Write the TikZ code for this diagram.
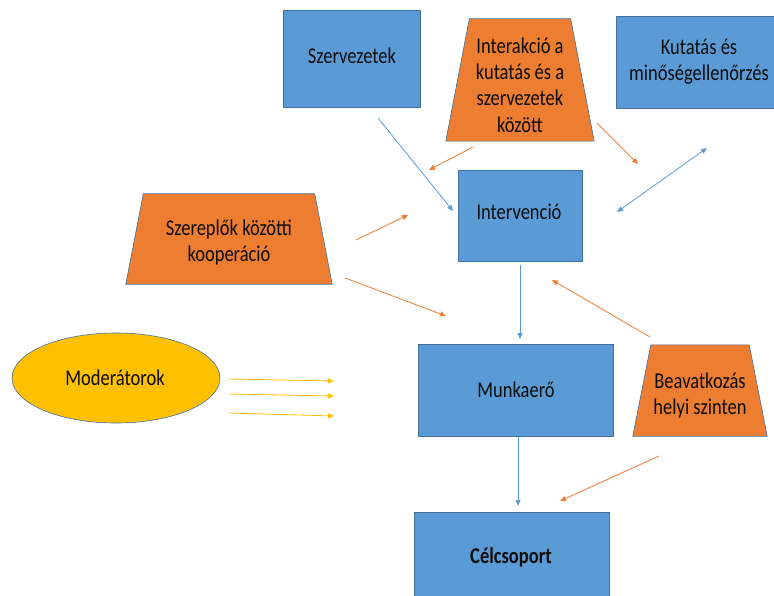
\documentclass[tikz,border=0pt]{standalone}
\usepackage{fontspec}
\setmainfont{Carlito}
\usetikzlibrary{shapes.geometric,arrows.meta}
\definecolor{boxblue}{HTML}{5B9BD5}
\definecolor{edgeblue}{HTML}{41719C}
\definecolor{orng}{HTML}{ED7D31}
\definecolor{yel}{HTML}{FFC000}
\newcommand{\tx}[1]{\scalebox{1}[1.22]{\begin{tabular}{@{}c@{}}#1\end{tabular}}}
\begin{document}
\begin{tikzpicture}[x=1pt,y=-1pt,
 box/.style={draw=edgeblue,line width=0.6pt,fill=boxblue,inner sep=0pt,rectangle},
 trapframe/.style={rectangle,inner sep=0pt},
 trapfill/.style={draw=edgeblue,line width=0.6pt,fill=orng},
 ell/.style={draw=edgeblue,line width=0.6pt,fill=yel,ellipse,inner sep=0pt},
 lbl/.style={font=\fontsize{18.5}{21.5}\selectfont,text=black!95,inner sep=0pt},
 tip/.style={-{Triangle[length=6pt,width=5pt]}},
 ba/.style={draw=boxblue,line width=0.8pt,tip},
 oa/.style={draw=orng,line width=0.8pt,tip},
 ya/.style={draw=yel,line width=0.8pt,tip}
]
\useasboundingbox (0,0) rectangle (774,596);
\begin{scope}
\clip (0,0) rectangle (774,596);
% boxes
\node[box,minimum width=137,minimum height=97] (szerv) at (352,58.5) {};
\node[box,minimum width=170,minimum height=92] (kut) at (701,62) {};
\node[box,minimum width=124,minimum height=91] (interv) at (520,215.5) {};
\node[box,minimum width=195,minimum height=92] (munka) at (515.5,390) {};
\node[box,minimum width=195,minimum height=90] (cel) at (511.5,557) {};
% trapezia frames
\node[trapframe,minimum width=148,minimum height=122] (inter) at (520,80) {};
\node[trapframe,minimum width=206,minimum height=90] (szer) at (229,239) {};
\node[trapframe,minimum width=134,minimum height=91] (beav) at (700,390.5) {};
\filldraw[trapfill] (inter.south west) -- (inter.south east) -- ([xshift=-23.5]inter.north east) -- ([xshift=23.5]inter.north west) -- cycle;
\filldraw[trapfill] (szer.south west) -- (szer.south east) -- ([xshift=-17.5]szer.north east) -- ([xshift=17.5]szer.north west) -- cycle;
\filldraw[trapfill] (beav.south west) -- (beav.south east) -- ([xshift=-18]beav.north east) -- ([xshift=18]beav.north west) -- cycle;
% ellipse
\node[ell,minimum width=208,minimum height=90] (mod) at (116,378) {};
\end{scope}
% labels
\node[lbl] (szervT) at (352,58) {\tx{Szervezetek}};
\node[lbl] (kutT) at (699,62) {\tx{Kutatás és\\minőségellenőrzés}};
\node[lbl] (intervT) at (519,214) {\tx{Intervenció}};
\node[lbl] (munkaT) at (516,392) {\tx{Munkaerő}};
\node[lbl] (celT) at (511,558) {\tx{\bfseries Célcsoport}};
\node[lbl] (interT) at (520,87.5) {\tx{Interakció a\\kutatás és a\\szervezetek\\között}};
\node[lbl] (szerT) at (229,243.5) {\tx{Szereplők közötti\\kooperáció}};
\node[lbl] (beavT) at (700,396) {\tx{Beavatkozás\\helyi szinten}};
\node[lbl] (modT) at (115,380) {\tx{Moderátorok}};
% arrow end points
\coordinate (a1s) at (378,118); \coordinate (a1e) at (453,211);
\coordinate (a2s) at (473,147); \coordinate (a2e) at (429,170);
\coordinate (a3s) at (597,123); \coordinate (a3e) at (638,164);
\coordinate (a4s) at (617,212); \coordinate (a4e) at (707,148);
\coordinate (a5s) at (356,240); \coordinate (a5e) at (408,215);
\coordinate (a6s) at (345,278); \coordinate (a6e) at (446,316);
\coordinate (a7s) at (520,265); \coordinate (a7e) at (520,339);
\coordinate (a8s) at (650,337); \coordinate (a8e) at (552,280);
\coordinate (a9s) at (518,437); \coordinate (a9e) at (518,506);
\coordinate (a10s) at (659,456); \coordinate (a10e) at (560,501);
\coordinate (y1s) at (229,379); \coordinate (y1e) at (334,381);
\coordinate (y2s) at (229,394); \coordinate (y2e) at (334,396);
\coordinate (y3s) at (229,413); \coordinate (y3e) at (334,416);
% arrows
\draw[ba] (a1s) -- (a1e);
\draw[oa] (a2s) -- (a2e);
\draw[oa] (a3s) -- (a3e);
\draw[ba,{Triangle[length=6pt,width=5pt]}-{Triangle[length=6pt,width=5pt]}] (a4s) -- (a4e);
\draw[oa] (a5s) -- (a5e);
\draw[oa] (a6s) -- (a6e);
\draw[ba] (a7s) -- (a7e);
\draw[oa] (a8s) -- (a8e);
\draw[ba] (a9s) -- (a9e);
\draw[oa] (a10s) -- (a10e);
\draw[ya] (y1s) -- (y1e);
\draw[ya] (y2s) -- (y2e);
\draw[ya] (y3s) -- (y3e);
\end{tikzpicture}
\end{document}
